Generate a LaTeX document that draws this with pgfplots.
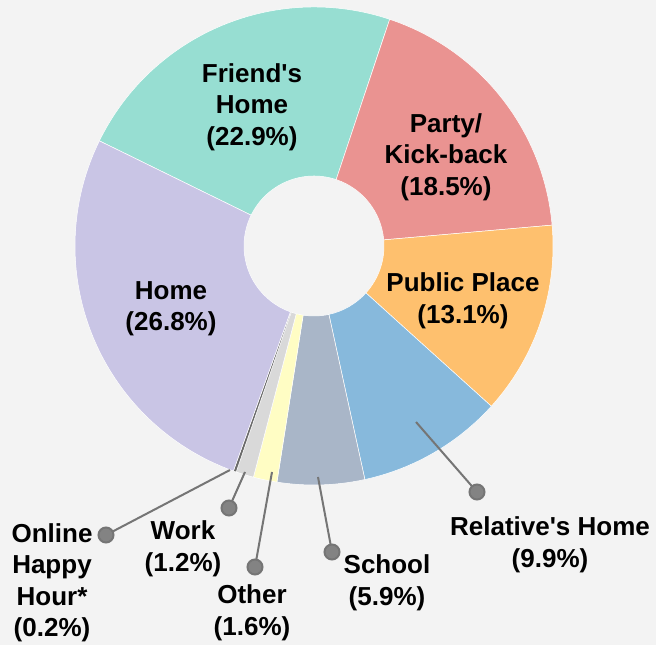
\documentclass[border=0pt]{standalone}
\usepackage{pgfplots}
\pgfplotsset{compat=1.18}
\usepackage{pgfplotstable}
\usepackage{fontspec}
\setmainfont{Liberation Sans}[Ligatures=TeXOff]

\definecolor{bg}{HTML}{F3F3F3}
\definecolor{cFriend}{HTML}{97DED2}
\definecolor{cParty}{HTML}{EA9391}
\definecolor{cPublic}{HTML}{FEC06E}
\definecolor{cRelative}{HTML}{87B9DC}
\definecolor{cSchool}{HTML}{A9B6C8}
\definecolor{cOther}{HTML}{FFFDC4}
\definecolor{cWork}{HTML}{D9D9D9}
\definecolor{cOnline}{HTML}{6A6A6A}
\definecolor{cHome}{HTML}{C9C5E5}
\definecolor{leader}{HTML}{757575}

% share of each place, clockwise from the Home/Friend's Home edge
\pgfplotstableread[col sep=comma]{
name,pct,color
Friend,22.9,cFriend
Party,18.5,cParty
Public,13.1,cPublic
Relative,9.9,cRelative
School,5.9,cSchool
Other,1.6,cOther
Work,1.2,cWork
Online,0.2,cOnline
Home,26.8,cHome
}\slices

\def\Rout{239}
\def\Rin{70}
\def\total{100.1}

\begin{document}
\begin{tikzpicture}[
    lab/.style={font=\bfseries\fontsize{26bp}{31.5bp}\selectfont, align=center, inner sep=0pt},
]
\begin{axis}[
    name=donut,
    x=1bp, y=1bp,
    xmin=-314, xmax=342,
    ymin=-399, ymax=246,
    hide axis,
    clip=false,
]
\fill[bg] (rel axis cs:0,0) rectangle (rel axis cs:1,1);

\pgfplotstablegetrowsof{\slices}
\pgfmathtruncatemacro\nrows{\pgfplotsretval-1}
\gdef\acc{153.9}
\pgfplotsforeachungrouped \i in {0,...,\nrows}{
  \pgfplotstablegetelem{\i}{pct}\of\slices \let\v\pgfplotsretval
  \pgfplotstablegetelem{\i}{color}\of\slices \let\c\pgfplotsretval
  \pgfmathsetmacro\aend{\acc-\v*360/\total}
  \edef\cmd{\noexpand\fill[fill=\c, draw=white, line width=0.5bp]
    (axis cs:{\Rout*cos(\acc)},{\Rout*sin(\acc)})
    arc[start angle=\acc, end angle=\aend, radius=\Rout bp]
    -- (axis cs:{\Rin*cos(\aend)},{\Rin*sin(\aend)})
    arc[start angle=\aend, end angle=\acc, radius=\Rin bp] -- cycle;}
  \cmd
  \xdef\acc{\aend}
}

% leader lines to the outside labels
\pgfplotsset{leaderline/.style={draw=leader, line width=2bp, mark=*, mark indices={2},
    mark size=7.5bp, mark options={fill=leader!90, draw=none}}}
\addplot[leaderline] coordinates {(102,-176) (163,-246)};
\addplot[leaderline] coordinates {(4,-231) (18,-306)};
\addplot[leaderline] coordinates {(-42,-226) (-59,-321)};
\addplot[leaderline] coordinates {(-69,-226) (-85,-262)};
\addplot[leaderline] coordinates {(-84,-224) (-208,-289)};

\node[lab] at (axis cs:-62,139) {Friend's\\Home\\(22.9\%)};
\node[lab] at (axis cs:132,89) {Party/\\Kick-back\\(18.5\%)};
\node[lab] at (axis cs:149,-55) {Public Place\\(13.1\%)};
\node[lab] at (axis cs:-143,-63) {Home\\(26.8\%)};
\node[lab] at (axis cs:236,-299) {Relative's Home\\(9.9\%)};
\node[lab] at (axis cs:73,-337) {School\\(5.9\%)};
\node[lab] at (axis cs:-62,-367) {Other\\(1.6\%)};
\node[lab] at (axis cs:-131,-303) {Work\\(1.2\%)};
\node[lab] at (axis cs:-262,-337) {Online\\Happy\\Hour*\\(0.2\%)};
\end{axis}
\pgfresetboundingbox
\useasboundingbox (donut.south west) rectangle (donut.north east);
\end{tikzpicture}
\end{document}
